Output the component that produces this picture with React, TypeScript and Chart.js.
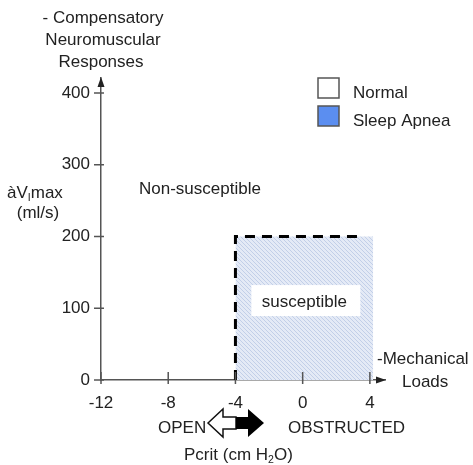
import React, { useEffect, useRef } from 'react';
import { Chart, registerables } from 'chart.js';
Chart.register(...registerables);

// ---- data ----
const xTicks = [-12, -8, -4, 0, 4];
const yTicks = [0, 100, 200, 300, 400];
const xRange = [-12, 4.9];
const yRange = [0, 421];
const regionX = [-4, 4.2];
const regionY = [200, 200];
const dashX = [-4, -4, 3.6];
const dashY = [0, 200, 200];
const legendLabels = ['Normal', 'Sleep Apnea'];
const legendColors = ['#ffffff', '#5b8ef0'];

const FAMILY = '"Liberation Sans", Arial, Helvetica, sans-serif';
const f = (sz: number) => `${sz}px ${FAMILY}`;

function makePattern(): CanvasPattern | string {
  const pc = document.createElement('canvas');
  pc.width = 4;
  pc.height = 4;
  const p = pc.getContext('2d');
  if (!p) return '#dde5f3';
  p.fillStyle = '#e4eaf6';
  p.fillRect(0, 0, 4, 4);
  p.strokeStyle = '#c2cfe8';
  p.lineWidth = 1;
  p.beginPath();
  p.moveTo(-1, -1); p.lineTo(5, 5);
  p.moveTo(-1, 3); p.lineTo(1, 5);
  p.moveTo(3, -1); p.lineTo(5, 1);
  p.stroke();
  const pat = p.createPattern(pc, 'repeat');
  return pat || '#dde5f3';
}

function drawRich(ctx: CanvasRenderingContext2D, parts: { t: string; sub?: boolean }[], x: number, y: number, size: number) {
  let cx = x;
  for (const part of parts) {
    if (part.sub) {
      ctx.font = f(size * 0.62);
      ctx.fillText(part.t, cx, y + size * 0.3);
      cx += ctx.measureText(part.t).width;
    } else {
      ctx.font = f(size);
      ctx.fillText(part.t, cx, y);
      cx += ctx.measureText(part.t).width;
    }
  }
}

const overlay = {
  id: 'overlay',
  afterDatasetsDraw(chart: any) {
    const { ctx, scales } = chart;
    const x = scales.x, y = scales.y;
    const ax = x.getPixelForValue(xRange[0]);
    const ay = y.getPixelForValue(yRange[0]);
    ctx.save();
    // white label box
    const lx = x.getPixelForValue(0.1), ly = y.getPixelForValue(110);
    ctx.fillStyle = '#ffffff';
    ctx.fillRect(lx - 53, ly - 16, 109, 31);
    ctx.fillStyle = '#222';
    ctx.font = f(17);
    ctx.textAlign = 'center';
    ctx.textBaseline = 'middle';
    ctx.fillText('susceptible', lx, ly + 1);

    // tick marks
    ctx.strokeStyle = '#555';
    ctx.lineWidth = 1.5;
    ctx.beginPath();
    for (const v of xTicks) {
      const px = x.getPixelForValue(v);
      ctx.moveTo(px, ay - 8);
      ctx.lineTo(px, ay + 4);
    }
    for (const v of yTicks) {
      const py = y.getPixelForValue(v);
      ctx.moveTo(ax - 7, py);
      ctx.lineTo(ax + 3, py);
    }
    ctx.stroke();

    // arrow heads
    ctx.fillStyle = '#222';
    const xr = x.right;
    ctx.beginPath();
    ctx.moveTo(xr + 1, ay);
    ctx.lineTo(xr - 9, ay - 3.5);
    ctx.lineTo(xr - 9, ay + 3.5);
    ctx.closePath();
    ctx.fill();
    const yt = y.top;
    ctx.beginPath();
    ctx.moveTo(ax, yt - 1);
    ctx.lineTo(ax - 3.5, yt + 9);
    ctx.lineTo(ax + 3.5, yt + 9);
    ctx.closePath();
    ctx.fill();
    ctx.restore();
  },
  afterDraw(chart: any) {
    const { ctx } = chart;
    ctx.save();
    ctx.fillStyle = '#222';
    ctx.textBaseline = 'middle';
    ctx.font = f(17);
    ctx.textAlign = 'center';
    ctx.fillText('- Compensatory', 103, 18);
    ctx.fillText('Neuromuscular', 103, 40);
    ctx.fillText('Responses', 101, 62);
    ctx.fillText('(ml/s)', 38, 213);
    ctx.textAlign = 'left';
    ctx.fillText('Non-susceptible', 139, 189);
    drawRich(ctx, [{ t: 'àV' }, { t: 'I', sub: true }, { t: 'max' }], 7, 193, 17);
    ctx.font = f(17);
    ctx.fillText('-Mechanical', 377, 359);
    ctx.fillText('Loads', 402, 382);
    ctx.fillText('OPEN', 158, 428);
    ctx.fillText('OBSTRUCTED', 288, 428);
    drawRich(ctx, [{ t: 'Pcrit (cm H' }, { t: '2', sub: true }, { t: 'O)' }], 184, 455, 17);

    // legend
    ctx.font = f(17);
    legendLabels.forEach((lab, i) => {
      const by = 78 + i * 28;
      ctx.fillStyle = legendColors[i];
      ctx.fillRect(318, by, 21, 20);
      ctx.strokeStyle = '#555';
      ctx.lineWidth = 1.5;
      ctx.strokeRect(318, by, 21, 20);
      ctx.fillStyle = '#222';
      ctx.fillText(lab, 353, by + 15);
    });

    // double arrow
    const cy = 423;
    ctx.lineWidth = 1.5;
    ctx.strokeStyle = '#111';
    ctx.fillStyle = '#ffffff';
    ctx.beginPath();
    ctx.moveTo(208, cy);
    ctx.lineTo(223, cy - 14);
    ctx.lineTo(223, cy - 6);
    ctx.lineTo(236, cy - 6);
    ctx.lineTo(236, cy + 6);
    ctx.lineTo(223, cy + 6);
    ctx.lineTo(223, cy + 14);
    ctx.closePath();
    ctx.fill();
    ctx.stroke();
    ctx.fillStyle = '#000';
    ctx.beginPath();
    ctx.moveTo(236, cy - 6);
    ctx.lineTo(248, cy - 6);
    ctx.lineTo(248, cy - 14);
    ctx.lineTo(264, cy);
    ctx.lineTo(248, cy + 14);
    ctx.lineTo(248, cy + 6);
    ctx.lineTo(236, cy + 6);
    ctx.closePath();
    ctx.fill();
    ctx.restore();
  },
};

export default function App() {
  const ref = useRef<HTMLCanvasElement>(null);
  useEffect(() => {
    const canvas = ref.current;
    if (!canvas) return;
    const pattern = makePattern();
    const chart = new Chart(canvas, {
      type: 'line',
      data: {
        datasets: [
          {
            label: 'boundary',
            data: dashX.map((v, i) => ({ x: v, y: dashY[i] })),
            borderColor: '#000',
            borderWidth: 3,
            borderDash: [10, 7],
            pointRadius: 0,
            fill: false,
            tension: 0,
            order: 0,
          },
          {
            label: 'region',
            data: regionX.map((v, i) => ({ x: v, y: regionY[i] })),
            borderColor: 'rgba(0,0,0,0)',
            borderWidth: 0,
            backgroundColor: pattern as any,
            fill: 'origin',
            pointRadius: 0,
            tension: 0,
            order: 1,
          },
        ],
      },
      options: {
        responsive: false,
        animation: false,
        devicePixelRatio: 1,
        layout: { padding: { top: 78, right: 88, left: 0, bottom: 0 } },
        plugins: { legend: { display: false }, tooltip: { enabled: false } },
        scales: {
          x: {
            type: 'linear',
            position: 'bottom',
            min: xRange[0],
            max: xRange[1],
            afterBuildTicks: (s: any) => { s.ticks = xTicks.map((v) => ({ value: v })); },
            afterFit: (s: any) => { s.height = 85; },
            grid: { display: false, drawTicks: false },
            border: { display: true, color: '#555', width: 1.5 },
            ticks: { padding: 13, color: '#222', font: { family: FAMILY, size: 17 }, maxRotation: 0, autoSkip: false, callback: (v: any) => String(v) },
          },
          y: {
            type: 'linear',
            position: 'left',
            min: yRange[0],
            max: yRange[1],
            afterBuildTicks: (s: any) => { s.ticks = yTicks.map((v) => ({ value: v })); },
            afterFit: (s: any) => { s.width = 101; },
            grid: { display: false, drawTicks: false },
            border: { display: true, color: '#555', width: 1.5 },
            ticks: { padding: 11, color: '#222', font: { family: FAMILY, size: 17 }, autoSkip: false, callback: (v: any) => String(v) },
          },
        },
      },
      plugins: [overlay],
    } as any);
    return () => chart.destroy();
  }, []);
  return (
    <div style={{ position: 'fixed', left: 0, top: 0, width: 473, height: 465, background: '#fff' }}>
      <canvas ref={ref} width={473} height={465} style={{ display: 'block', width: 473, height: 465 }} />
    </div>
  );
}
